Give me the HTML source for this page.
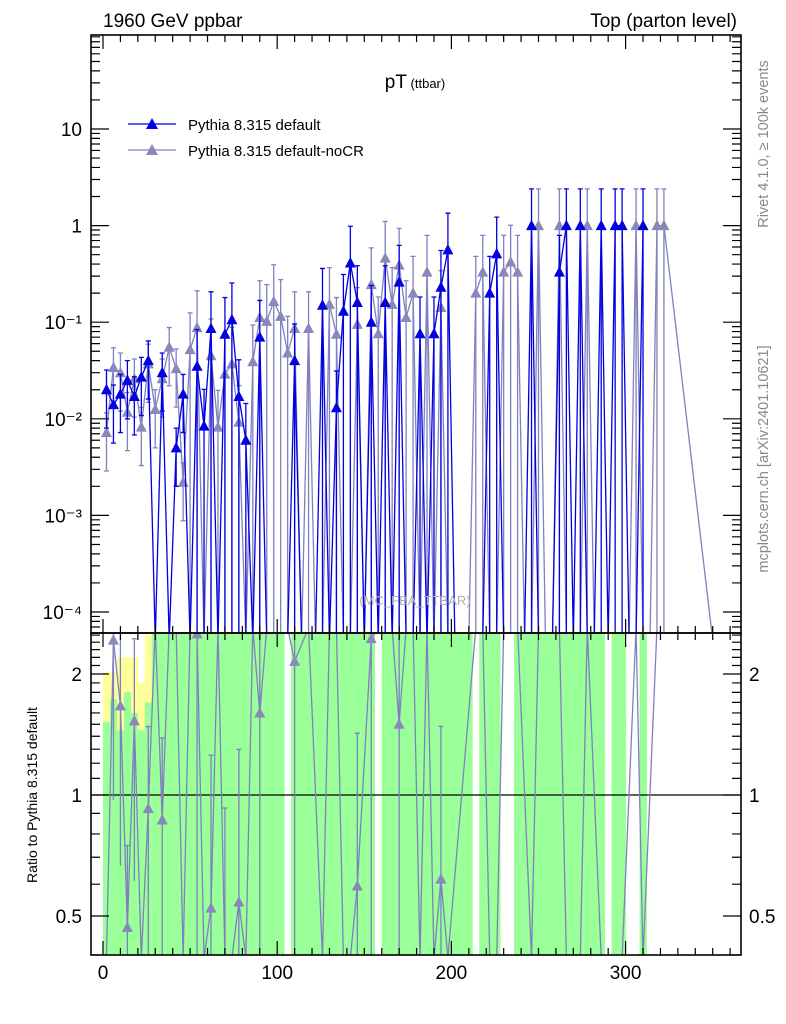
<!DOCTYPE html>
<html><head><meta charset="utf-8"><style>
html,body{margin:0;padding:0;background:#fff;width:786px;height:1024px;overflow:hidden;}
svg{display:block;font-family:"Liberation Sans",sans-serif;overflow:hidden;}
</style></head><body>
<svg id="chart" width="786" height="1024" viewBox="0 0 786 1024" xmlns="http://www.w3.org/2000/svg">
<defs>
<clipPath id="clipMain"><rect x="91" y="35" width="650" height="598"/></clipPath>
<clipPath id="clipRatio"><rect x="91" y="633" width="650" height="322"/></clipPath>
</defs>
<g id="bands" clip-path="url(#clipRatio)"></g>
<g id="mainG" clip-path="url(#clipMain)"></g>
<g id="ratioG" clip-path="url(#clipRatio)"></g>
<g id="axes"></g>
<text x="103" y="27" font-size="19">1960 GeV ppbar</text>
<text x="737" y="27" font-size="19" text-anchor="end">Top (parton level)</text>
<text x="415" y="88" text-anchor="middle"><tspan font-size="19">pT</tspan><tspan font-size="13"> (ttbar)</tspan></text>
<g>
<g>
<line x1="128" y1="124" x2="176" y2="124" stroke="#0000e0" stroke-width="1.3"/>
<polygon points="146,129 158,129 152,118" fill="#0000e0"/>
<text x="188" y="130" font-size="15">Pythia 8.315 default</text></g>
<g>
<line x1="128" y1="150" x2="176" y2="150" stroke="#8080c0" stroke-width="1.3"/>
<polygon points="146,155 158,155 152,144" fill="#8888bb"/>
<text x="188" y="156" font-size="15">Pythia 8.315 default-noCR</text></g>
</g>
<text x="415" y="605" font-size="13" fill="#b0b0b0" text-anchor="middle">(MC_FBA_TTBAR)</text>
<text transform="translate(768,144) rotate(-90)" font-size="14.5" fill="#888" text-anchor="middle">Rivet 4.1.0, ≥ 100k events</text>
<text transform="translate(768,459) rotate(-90)" font-size="14.5" fill="#888" text-anchor="middle">mcplots.cern.ch [arXiv:2401.10621]</text>
<text transform="translate(37,795) rotate(-90)" font-size="14" text-anchor="middle">Ratio to Pythia 8.315 default</text>
</svg>
<script>
// ---- data (bin index i => pT centre 2+4i GeV) ----
const binWidth = 4;
const defaultBins = [0,1,2,3,4,5,6,8,10,11,13,14,15,17,18,19,20,22,27,31,33,34,35,36,38,40,42,45,47,48,49,55,56,61,65,66,68,71,73,74,77];
const defaultVals = [0.02,0.014,0.018,0.025,0.017,0.027,0.04,0.03,0.005,0.018,0.035,0.0084,0.086,0.075,0.106,0.017,0.006,0.07,0.04,0.15,0.013,0.13,0.41,0.16,0.1,0.16,0.26,0.076,0.076,0.23,0.56,0.2,0.51,1,0.33,1,1,1,1,1,1];
const defaultLast = 77;
const nocrBins = [0,1,2,3,4,5,6,7,8,9,10,11,12,13,15,16,17,18,19,21,22,23,24,25,26,27,29,32,33,36,38,39,40,41,42,43,44,46,48,53,54,57,58,59,62,65,69,76,79,80];
const nocrVals = [0.0072,0.034,0.030,0.0117,0.026,0.0082,0.037,0.0125,0.026,0.055,0.033,0.0022,0.052,0.088,0.045,0.0082,0.029,0.037,0.0092,0.039,0.112,0.102,0.164,0.115,0.048,0.086,0.086,0.153,0.075,0.095,0.245,0.076,0.46,0.153,0.39,0.112,0.2,0.33,0.142,0.2,0.33,0.33,0.42,0.33,1,1,1,1,1,1];
const nocrLast = 80;
const nocrTrailingZeroBin = 87;
const yTickLabels = ["10","1","10\u207B\u00B9","10\u207B\u00B2","10\u207B\u00B3","10\u207B\u2074"];
const yTickExps = [1,0,-1,-2,-3,-4];
const xTicks = [0,100,200,300];
const ratioTicks = [2,1,0.5];
const ratioTickLabels = ["2","1","0.5"];
const bandGapBins = [26,39,53,57,58,72,75,76];
const bandLastBin = 77;
const bandGreenTop = [1.52,1.73,1.45,1.8,1.6,1.45,1.7,2.6];
const bandYellowTop = [2.02,2.02,2.2,2.2,2.2,1.9,2.5,2.6];

// ---- axes ----
const L=91,R=741,T=35,MB=633,RB=955;
const x = v => 103 + v*1.742;
const yM = v => 225.6 - Math.log10(v)*96.6;
const yR = r => 795 - Math.log2(r)*121;
const NS="http://www.w3.org/2000/svg";
function mk(tag, attrs, parent){const e=document.createElementNS(NS,tag);for(const k in attrs)e.setAttribute(k,attrs[k]);parent.appendChild(e);return e;}
const mainG=document.getElementById('mainG'), ratioG=document.getElementById('ratioG'), axes=document.getElementById('axes'), bands=document.getElementById('bands');
const cx = i => x(2+binWidth*i);

for(let i=0;i<=bandLastBin;i++){
  if(bandGapBins.includes(i)) continue;
  const x0=x(binWidth*i), w=x(binWidth*(i+1))-x0;
  const gt = i<bandGreenTop.length? yR(bandGreenTop[i]) : T;
  const yt = i<bandYellowTop.length? yR(bandYellowTop[i]) : T;
  const yel=mk('rect',{x:x0,y:yt,width:w+0.3,height:RB-yt,fill:'#ffff99'},bands);
  
  
  const g=mk('rect',{x:x0,y:gt,width:w+0.3,height:RB-gt,fill:'#99ff99'},bands);
  
  
}

function valueAt(bins, vals, i){const k=bins.indexOf(i);return k<0?0:vals[k];}

function drawSeries(bins, vals, last, color, mcol, name, extraZero){
  let pts=[];
  for(let i=0;i<=last;i++){const v=valueAt(bins,vals,i);pts.push([cx(i), v>0?yM(v):640]);}
  if(extraZero!==undefined) pts.push([cx(extraZero),640]);
  const ln=mk('polyline',{points:pts.map(p=>p.join(',')).join(' '),fill:'none',stroke:color,'stroke-width':1.3},mainG);
  
  
  bins.forEach((b,k)=>{
    const v=vals[k], e=v*(b<12?0.6:1.4);
    const xx=cx(b), yt=yM(v+e), yb=(v-e)>0?yM(v-e):640;
    const eb=mk('path',{d:`M${xx},${yb}V${yt}M${xx-2.5},${yt}H${xx+2.5}`+((v-e)>0?`M${xx-2.5},${yb}H${xx+2.5}`:''),stroke:color,'stroke-width':1.3,fill:'none'},mainG);
    
    
    const y0=yM(v);
    const m=mk('polygon',{points:`${xx-5.5},${y0+4.5} ${xx+5.5},${y0+4.5} ${xx},${y0-6}`,fill:mcol},mainG);
    
    
  });
}
drawSeries(nocrBins,nocrVals,nocrLast,'#8080c0','#8888bb','nocr',nocrTrailingZeroBin);
drawSeries(defaultBins,defaultVals,defaultLast,'#0000e0','#0000e0','default');

const rl=mk('line',{x1:L,y1:yR(1),x2:R,y2:yR(1),stroke:'#000','stroke-width':1.2},ratioG);


let rpts=[];
for(let i=0;i<=nocrLast;i++){
  const a=valueAt(nocrBins,nocrVals,i), b=valueAt(defaultBins,defaultVals,i);
  if(a===0&&b===0) continue;
  let y = b===0? 628 : (a===0? 958 : Math.min(958,Math.max(628,yR(a/b))));
  rpts.push([cx(i),y]);
}
const rpl=mk('polyline',{points:rpts.map(p=>p.join(',')).join(' '),fill:'none',stroke:'#8080c0','stroke-width':1.3},ratioG);


nocrBins.forEach((bn,k)=>{
  const b=valueAt(defaultBins,defaultVals,bn); if(b===0) return;
  const r=nocrVals[k]/b, rel=(bn<12?0.6:1.4);
  const xx=cx(bn), yy=yR(r);
  if(yy<MB-6||yy>RB+6) return;
  const yt=Math.max(628,yR(r*(1+rel))), yb=rel<1?Math.min(958,yR(r*(1-rel))):958;
  const eb=mk('path',{d:`M${xx},${yb}V${yt}M${xx-2.5},${yt}H${xx+2.5}`,stroke:'#8080c0','stroke-width':1.3,fill:'none'},ratioG);
  
  
  const m=mk('polygon',{points:`${xx-5.5},${yy+4.5} ${xx+5.5},${yy+4.5} ${xx},${yy-6}`,fill:'#8888bb'},ratioG);
  
  
});

const f1=mk('rect',{x:L,y:T,width:R-L,height:MB-T,fill:'none',stroke:'#000','stroke-width':1.6},axes);


const f2=mk('rect',{x:L,y:MB,width:R-L,height:RB-MB,fill:'none',stroke:'#000','stroke-width':1.6},axes);



let d='';
for(let v=0;v<=360;v+=10){
  const xx=x(v); const len = v%100===0?14:7;
  d+=`M${xx},${MB}v${-len}M${xx},${T}v${len}M${xx},${RB}v${-len}M${xx},${MB}v${len}`;
}
for(let e=-5;e<=2;e++){
  for(let m=1;m<10;m++){
    const v=m*Math.pow(10,e), yy=yM(v);
    if(yy<T||yy>MB) continue;
    const len=m===1?18:9;
    d+=`M${L},${yy}h${len}M${R},${yy}h${-len}`;
  }
}
for(let r=0.4;r<=2.55;r+=0.1){
  const yy=yR(r); if(yy<MB||yy>RB) continue;
  const major=[0.5,1,2].some(t=>Math.abs(t-r)<1e-6);
  const len=major?18:9;
  d+=`M${L},${yy}h${len}M${R},${yy}h${-len}`;
}
const tk=mk('path',{d:d,stroke:'#000','stroke-width':1.2,fill:'none'},axes);



yTickExps.forEach((e,k)=>{
  const t=mk('text',{x:82,y:yM(Math.pow(10,e))+7,'font-size':19,'text-anchor':'end'},axes);
  t.textContent=yTickLabels[k];
  
  
});
ratioTicks.forEach((r,k)=>{
  const t=mk('text',{x:82,y:yR(r)+7,'font-size':19,'text-anchor':'end'},axes);
  t.textContent=ratioTickLabels[k];
  
  
  const t2=mk('text',{x:749,y:yR(r)+7,'font-size':19},axes);
  t2.textContent=ratioTickLabels[k];
  
  
});
xTicks.forEach(v=>{
  const t=mk('text',{x:x(v),y:979,'font-size':19,'text-anchor':'middle'},axes);
  t.textContent=String(v);
  
  
});
</script>
</body></html>
